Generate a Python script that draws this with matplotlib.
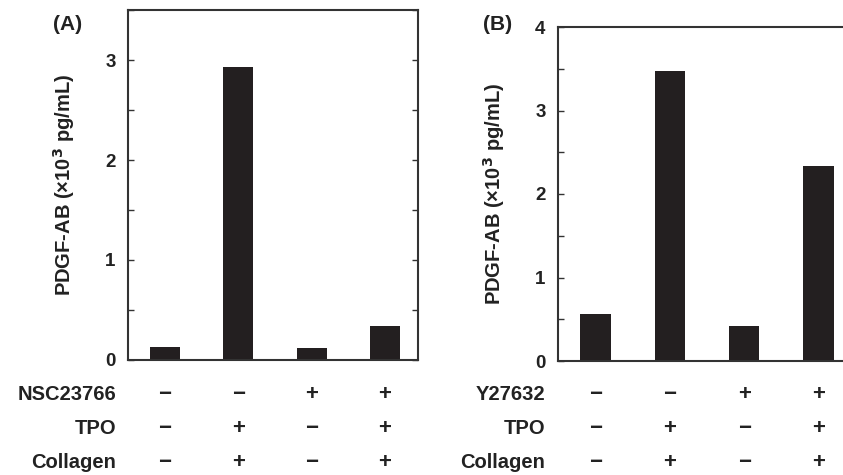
import matplotlib.pyplot as plt
from matplotlib.ticker import MultipleLocator
from matplotlib.transforms import blended_transform_factory

# 数据
groups = [0, 1, 2, 3]
pdgf_a = [0.13, 2.93, 0.12, 0.34]
pdgf_b = [0.56, 3.47, 0.42, 2.34]

inhibitor_a = ["−", "−", "+", "+"]
inhibitor_b = ["−", "−", "+", "+"]
tpo = ["−", "+", "−", "+"]
collagen = ["−", "+", "−", "+"]

plt.rcParams["font.family"] = ["Liberation Sans", "DejaVu Sans"]
plt.rcParams["font.weight"] = "bold"

bar_color = "#231f20"
spine_color = "#333333"
text_color = "#222222"

fig = plt.figure(figsize=(8.43, 4.75), dpi=100)

ax_a = fig.add_axes([128 / 843, 115 / 475, 290 / 843, 350 / 475])
ax_b = fig.add_axes([558 / 843, 114 / 475, 294 / 843, 334 / 475])


def style_axis(ax, values, ymax):
    ax.bar(groups, values, width=0.41, color=bar_color)
    ax.set_xlim(-0.505, 3.45)
    ax.set_ylim(0, ymax)
    ax.yaxis.set_major_locator(MultipleLocator(1))
    ax.yaxis.set_minor_locator(MultipleLocator(0.5))
    ax.set_xticks([])
    ax.tick_params(axis="y", which="both", direction="in", length=4,
                   width=1, right=True, labelsize=13.5, pad=9,
                   colors=spine_color, labelcolor=text_color)
    for s in ax.spines.values():
        s.set_linewidth(1.5)
        s.set_color(spine_color)
    for lab in ax.get_yticklabels():
        lab.set_fontweight("bold")
    ax.set_ylabel("PDGF-AB (×10$^{\\mathbf{3}}$ pg/mL)", fontsize=14.5,
                  fontweight="bold", color=text_color, labelpad=20)


style_axis(ax_a, pdgf_a, 3.5)
style_axis(ax_b, pdgf_b, 4)

fig.text(53 / 843, 1 - 24 / 475, "(A)", fontsize=15, fontweight="bold",
         va="center", ha="left", color=text_color)
fig.text(483 / 843, 1 - 24 / 475, "(B)", fontsize=15, fontweight="bold",
         va="center", ha="left", color=text_color)

# 条件表
row_y = [1 - 395 / 475, 1 - 429 / 475, 1 - 462 / 475]


def draw_table(ax, label_x, rows):
    trans = blended_transform_factory(ax.transData, fig.transFigure)
    for (name, marks), y in zip(rows, row_y):
        fig.text(label_x, y, name, fontsize=14.5, fontweight="bold",
                 ha="right", va="center", color=text_color)
        for g, m in zip(groups, marks):
            ax.text(g, y, m, fontsize=16, fontweight="bold", ha="center",
                    va="center", color=text_color, transform=trans,
                    clip_on=False)


draw_table(ax_a, 116 / 843,
           [("NSC23766", inhibitor_a), ("TPO", tpo), ("Collagen", collagen)])
draw_table(ax_b, 545 / 843,
           [("Y27632", inhibitor_b), ("TPO", tpo), ("Collagen", collagen)])

fig.savefig("out.png", dpi=100)
